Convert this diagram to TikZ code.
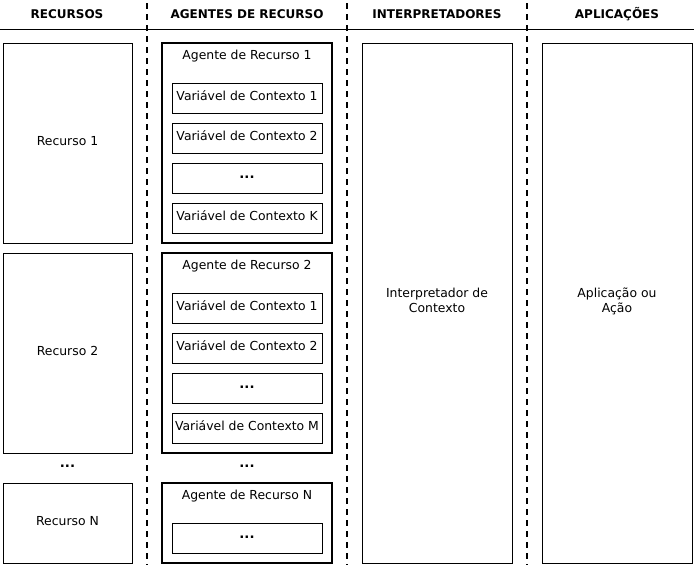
\documentclass[tikz,border=0pt]{standalone}
\usepackage{fontspec}
\setmainfont{DejaVu Sans}
\begin{document}
\begin{tikzpicture}[x=0.75pt,y=-0.75pt,font=\fontsize{9.3}{11.5}\selectfont]
\tikzset{col/.style={font=\fontsize{9}{11}\selectfont\bfseries},
 sep/.style={line width=1.5pt,dash pattern=on 4.5pt off 3.75pt},
 res/.style={draw,line width=0.6pt,minimum width=96.75pt,minimum height=150pt,inner sep=0pt,text depth=3pt},
 agent/.style={draw,line width=1.5pt,minimum width=127.5pt,minimum height=150pt,inner sep=0pt},
 var/.style={draw,line width=0.6pt,minimum width=112.5pt,minimum height=22.5pt,inner sep=0pt,text depth=3pt},
 dots/.style={font=\fontsize{10}{12}\selectfont\bfseries,text depth=1.5pt},
 tall/.style={draw,line width=0.6pt,minimum width=112.5pt,minimum height=390pt,align=center,inner sep=0pt,text depth=4pt}}
\useasboundingbox (0,0) rectangle (694,565);
% header
\node[col] (h1) at (67,14) {RECURSOS};
\node[col] (h2) at (247,14) {AGENTES DE RECURSO};
\node[col] (h3) at (437,14) {INTERPRETADORES};
\node[col] (h4) at (617,14) {APLICAÇÕES};
\coordinate (hl) at (0,29); \coordinate (hr) at (694,29);
\draw[line width=0.75pt] (hl) -- (hr);
\foreach \x/\n in {147/a,347/b,527/c}{
 \coordinate (s\n t) at (\x,3); \coordinate (s\n b) at (\x,565);
 \draw[sep] (s\n t) -- (s\n b);}
% resources
\node[res] (r1) at (67.5,143) {Recurso 1};
\node[res] (r2) at (67.5,353) {Recurso 2};
\node[dots] (rdots) at (67.5,467) {...};
\node[res,minimum height=60pt] (rn) at (67.5,523) {Recurso N};
% agents
\node[agent] (a1) at (247,143) {};
\node[anchor=north] (a1t) at (247,45) {Agente de Recurso 1};
\node[var] (v11) at (247,98) {Variável de Contexto 1};
\node[var] (v12) at (247,138) {Variável de Contexto 2};
\node[var,dots] (v13) at (247,178) {...};
\node[var] (v14) at (247,218) {Variável de Contexto K};
\node[agent] (a2) at (247,353) {};
\node[anchor=north] (a2t) at (247,255) {Agente de Recurso 2};
\node[var] (v21) at (247,308) {Variável de Contexto 1};
\node[var] (v22) at (247,348) {Variável de Contexto 2};
\node[var,dots] (v23) at (247,388) {...};
\node[var] (v24) at (247,428) {Variável de Contexto M};
\node[dots] (adots) at (247,467) {...};
\node[agent,minimum height=60pt] (an) at (247,523) {};
\node[anchor=north] (ant) at (247,485) {Agente de Recurso N};
\node[var,dots] (vn1) at (247,538) {...};
% interpreter, application
\node[tall] (ic) at (437,303) {Interpretador de\\Contexto};
\node[tall] (ap) at (617,303) {Aplicação ou\\Ação};
\end{tikzpicture}
\end{document}
